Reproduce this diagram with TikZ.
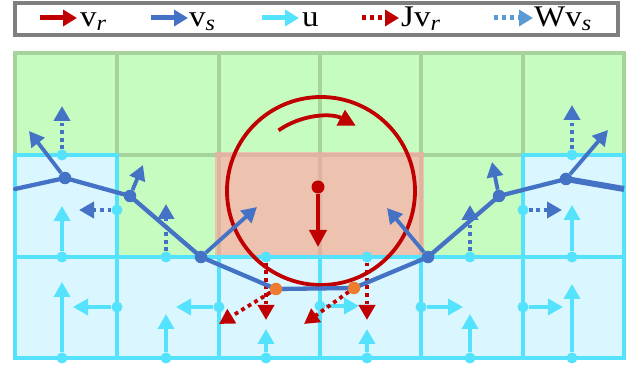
\documentclass[tikz,border=0pt]{standalone}
\usepackage{fontspec}
\setmainfont{Liberation Serif}
\usetikzlibrary{arrows.meta}
\definecolor{cGF}{RGB}{199,252,192}
\definecolor{cGL}{RGB}{166,211,155}
\definecolor{cCF}{RGB}{218,246,254}
\definecolor{cCL}{RGB}{85,226,253}
\definecolor{cPF}{RGB}{237,195,176}
\definecolor{cPL}{RGB}{222,179,160}
\definecolor{cRed}{RGB}{192,0,0}
\definecolor{cBlue}{RGB}{68,114,196}
\definecolor{cLBlue}{RGB}{91,155,213}
\definecolor{cOr}{RGB}{237,125,49}
\definecolor{cGray}{RGB}{127,127,127}
\newcommand{\lsub}[1]{\raisebox{-4pt}{\fontsize{22}{22}\selectfont\itshape #1}}
\newcommand{\ltext}[1]{\scalebox{1.1}[1]{\fontsize{30}{32}\selectfont #1}}
\begin{document}
\begin{tikzpicture}[x=1pt,y=-1pt,
  gridg/.style={draw=cGL, line width=3.8pt},
  gridp/.style={draw=cPL, line width=3.8pt},
  gridc/.style={draw=cCL, line width=3.8pt},
  uarr/.style={draw=cCL, line width=3.4pt, -{Triangle[length=15pt,width=16pt]}},
  warr/.style={draw=cBlue, line width=3.8pt, dash pattern=on 3.8pt off 3.8pt, -{Triangle[length=15pt,width=16pt]}},
  jarr/.style={draw=cRed, line width=3.8pt, dash pattern=on 3.8pt off 3.8pt, -{Triangle[length=15pt,width=16pt]}},
  varr/.style={draw=cBlue, line width=3.8pt, -{Triangle[length=15pt,width=16pt]}},
  rarr/.style={draw=cRed, line width=3.8pt, -{Triangle[length=17pt,width=17pt]}},
  bline/.style={draw=cBlue, line width=4.3pt, line join=round, line cap=round},
  cdot/.style={circle, fill=cCL, inner sep=0pt, minimum size=11pt},
  bdot/.style={circle, fill=cBlue, inner sep=0pt, minimum size=12.5pt},
  odot/.style={circle, fill=cOr, inner sep=0pt, minimum size=12.5pt},
  rdot/.style={circle, fill=cRed, inner sep=0pt, minimum size=13pt},
  legarr/.style={line width=5pt, -{Triangle[length=14pt,width=16pt]}},
  legtxt/.style={anchor=base west, inner sep=0pt}
]
\useasboundingbox (0,0) rectangle (633,366);

% legend
\draw[cGray, line width=4pt, fill=white] (15,3) rectangle (618,35);
\coordinate (l1a) at (40,18);  \coordinate (l1b) at (77,18);
\coordinate (l2a) at (151,18); \coordinate (l2b) at (188,18);
\coordinate (l3a) at (262,18); \coordinate (l3b) at (299,18);
\coordinate (l4a) at (362,18); \coordinate (l4b) at (399,18);
\coordinate (l5a) at (494,18); \coordinate (l5b) at (533,18);
\draw[legarr, cRed] (l1a) -- (l1b);
\draw[legarr, cBlue] (l2a) -- (l2b);
\draw[legarr, cCL] (l3a) -- (l3b);
\draw[legarr, cRed, dash pattern=on 4pt off 4pt] (l4a) -- (l4b);
\draw[legarr, cLBlue, dash pattern=on 4pt off 4pt] (l5a) -- (l5b);
\node[legtxt] (t1) at (80,27) {\ltext{v\lsub{r}}};
\node[legtxt] (t2) at (189,27) {\ltext{v\lsub{s}}};
\node[legtxt] (t3) at (302,27) {\ltext{u}};
\node[legtxt] (t4) at (401,27) {\ltext{Jv\lsub{r}}};
\node[legtxt] (t5) at (534,27) {\ltext{Wv\lsub{s}}};

% green grid
\fill[cGF] (15,53) rectangle (624,358);
\draw[gridg] (15,53) rectangle (624,358);
\draw[gridg] (15,155) -- (624,155);
\foreach \x in {117,219,320,421,523} \draw[gridg] (\x,53) -- (\x,257);

% pink region
\fill[cPF] (215,152) rectangle (424,257);
\draw[gridp] (215,155) -- (424,155);
\foreach \x in {219,320,421} \draw[gridp] (\x,152) -- (\x,257);

% cyan cells
\fill[cCF] (15,257) rectangle (624,358);
\fill[cCF] (15,155) rectangle (117,257);
\fill[cCF] (523,155) rectangle (624,257);
\draw[gridc] (15,155) rectangle (117,257);
\draw[gridc] (523,155) rectangle (624,257);
\draw[gridc] (15,257) rectangle (624,358);
\foreach \x in {117,219,320,421,523} \draw[gridc] (\x,257) -- (\x,358);

% u arrows
\node[cdot] (uA) at (62,257) {};  \coordinate (uAt) at (62,206);
\node[cdot] (uB) at (572,257) {}; \coordinate (uBt) at (572,205);
\node[cdot] (uC) at (62,358) {};  \coordinate (uCt) at (62,282);
\node[cdot] (uD) at (166,358) {}; \coordinate (uDt) at (166,314);
\node[cdot] (uE) at (266,358) {}; \coordinate (uEt) at (266,329);
\node[cdot] (uF) at (367,358) {}; \coordinate (uFt) at (367,329);
\node[cdot] (uG) at (470,358) {}; \coordinate (uGt) at (470,314);
\node[cdot] (uH) at (572,358) {}; \coordinate (uHt) at (572,284);
\node[cdot] (uI) at (117,307) {}; \coordinate (uIt) at (73,307);
\node[cdot] (uJ) at (219,307) {}; \coordinate (uJt) at (176,307);
\node[cdot] (uK) at (320,306) {}; \coordinate (uKt) at (359,306);
\node[cdot] (uL) at (421,307) {}; \coordinate (uLt) at (463,307);
\node[cdot] (uM) at (523,307) {}; \coordinate (uMt) at (563,307);
\foreach \n in {A,B,C,D,E,F,G,H,I,J,K,L,M} \draw[uarr] (u\n) -- (u\n t);

% W v_s dotted arrows
\node[cdot] (wA) at (62,155) {};  \coordinate (wAt) at (62,106);
\node[cdot] (wB) at (117,210) {}; \coordinate (wBt) at (79,210);
\node[cdot] (wC) at (166,257) {}; \coordinate (wCt) at (166,204);
\node[cdot] (wD) at (470,257) {}; \coordinate (wDt) at (470,205);
\node[cdot] (wE) at (523,210) {}; \coordinate (wEt) at (562,210);
\node[cdot] (wF) at (572,155) {}; \coordinate (wFt) at (572,105);
\foreach \n in {A,B,C,D,E,F} \draw[warr] (w\n) -- (w\n t);

% J v_r dotted arrows from cyan dots
\node[cdot] (jA) at (266,257) {}; \coordinate (jAt) at (266,320);
\node[cdot] (jB) at (367,257) {}; \coordinate (jBt) at (367,320);
\draw[jarr] (jA) -- (jAt);
\draw[jarr] (jB) -- (jBt);

% rigid circle
\node[draw=cRed, line width=3.8pt, circle, minimum size=188pt, inner sep=0pt] (circ) at (321,191) {};
\node[rdot] (rc) at (318,187) {};
\coordinate (rct) at (318,247);
\draw[rarr] (rc) -- (rct);
\draw[rarr] ([shift={(-125:74)}]circ.center) arc[start angle=-125, end angle=-62, radius=74];

% blue polyline
\coordinate (P0) at (15,189);
\coordinate (P1) at (65,178);
\coordinate (P2) at (130,196);
\coordinate (P3) at (201,257);
\coordinate (P4) at (276,289);
\coordinate (P5) at (354,288);
\coordinate (P6) at (428,257);
\coordinate (P7) at (499,196);
\coordinate (P8) at (566,179);
\coordinate (P9) at (624,189);
\draw[bline] (P0) -- (P1) -- (P2) -- (P3) -- (P4) -- (P5) -- (P6) -- (P7) -- (P8);
\draw[bline, line width=6pt, line cap=butt] (P8) -- (P9);
\node[bdot] (b1) at (P1) {};
\node[bdot] (b2) at (P2) {};
\node[bdot] (b3) at (P3) {};
\node[bdot] (b6) at (P6) {};
\node[bdot] (b7) at (P7) {};
\node[bdot] (b8) at (P8) {};
\coordinate (b1t) at (29,131);
\coordinate (b2t) at (143,165);
\coordinate (b3t) at (257,207);
\coordinate (b6t) at (387,208);
\coordinate (b7t) at (492,162);
\coordinate (b8t) at (608,130);
\foreach \n in {1,2,3,6,7,8} \draw[varr] (b\n) -- (b\n t);

% orange contact points
\node[odot] (o4) at (P4) {};
\node[odot] (o5) at (P5) {};
\coordinate (o4t) at (219,324);
\coordinate (o5t) at (304,324);
\draw[jarr] (o4) -- (o4t);
\draw[jarr] (o5) -- (o5t);
\end{tikzpicture}
\end{document}
